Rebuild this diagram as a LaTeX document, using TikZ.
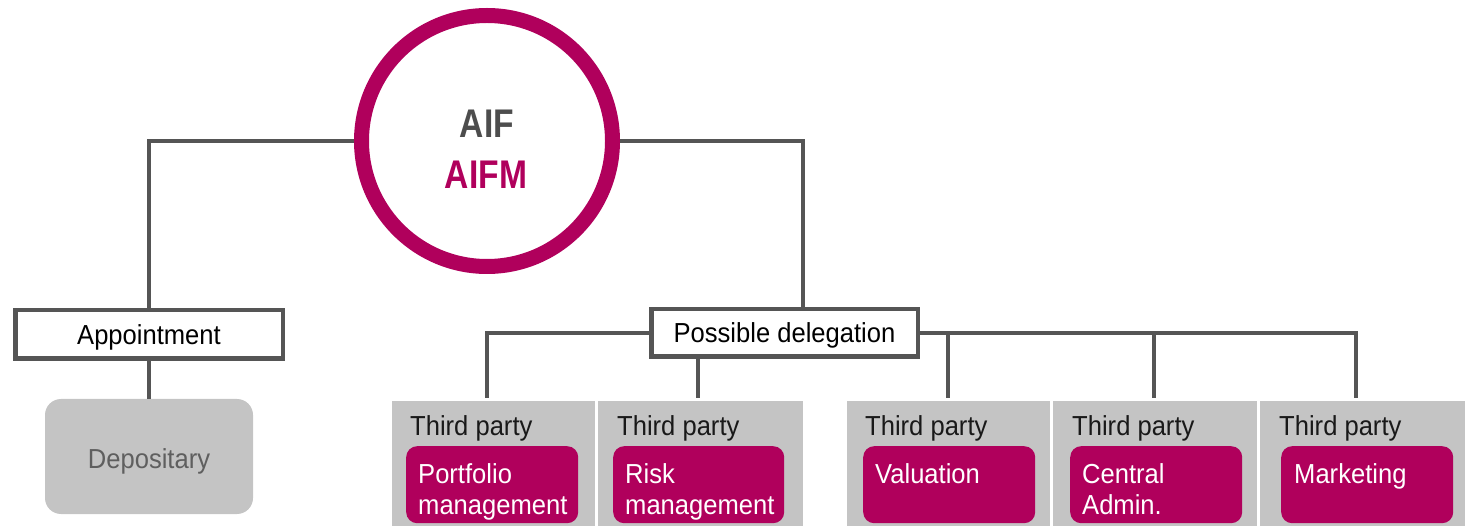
\documentclass[tikz,border=0pt]{standalone}
\usepackage{fontspec}
\setmainfont[FakeStretch=0.93]{Liberation Sans}
\newfontfamily\aiffont[FakeStretch=0.84]{Liberation Sans Bold}
\definecolor{mag}{RGB}{176,0,92}
\definecolor{linegray}{RGB}{85,85,85}
\definecolor{boxgray}{RGB}{196,196,196}
\definecolor{deptext}{RGB}{95,95,95}
\definecolor{aifgray}{RGB}{77,77,77}
\tikzset{
  conn/.style={draw=linegray, line width=4pt},
  labelbox/.style={draw=linegray, line width=4.5pt, fill=white, inner sep=0pt,
    text depth=0pt, text height=20pt, font=\fontsize{27.5}{31}\selectfont},
  tpbox/.style={fill=boxgray, inner sep=0pt, minimum height=130pt, anchor=north west},
  fnbox/.style={fill=mag, rounded corners=11pt, inner sep=0pt, minimum height=77pt, anchor=north west},
  tptext/.style={anchor=base west, inner sep=0pt, font=\fontsize{27.5}{31}\selectfont, text=black!90},
  fntext/.style={anchor=base west, inner sep=0pt, align=left, text width=165pt,
    font=\fontsize{27.5}{31}\selectfont, text=white},
}
\begin{document}
\begin{tikzpicture}[x=1pt,y=-1pt]
\useasboundingbox (0,0) rectangle (1465,526);
\clip (0,0) rectangle (1465,526);

% central circle
\node[circle, draw=mag, line width=15pt, minimum size=251pt, inner sep=0pt] (circ) at (487,141) {};
\node[anchor=base, inner sep=0pt, font=\aiffont\fontsize{40}{40}\selectfont, text=aifgray] (aif) at (487,138) {AIF};
\node[anchor=base, inner sep=0pt, font=\aiffont\fontsize{40}{40}\selectfont, text=mag] (aifm) at (486,189) {AIFM};

% label boxes
\node[labelbox, minimum width=267.5pt, minimum height=48.5pt] (app) at (149,334.5) {Appointment};
\node[labelbox, minimum width=266.5pt, minimum height=47.5pt] (pd) at (784.5,333) {Possible delegation};

% depositary
\node[fill=boxgray, rounded corners=16pt, minimum width=208pt, minimum height=115pt, inner sep=0pt,
  text depth=0pt, text height=23pt,
  text=deptext, font=\fontsize{27.5}{31}\selectfont] (dep) at (149,456.5) {Depositary};

% third party columns
\node[tpbox, minimum width=203pt] (tp1) at (392,401) {};
\node[tpbox, minimum width=205pt] (tp2) at (598,401) {};
\node[tpbox, minimum width=203pt] (tp3) at (847,401) {};
\node[tpbox, minimum width=204pt] (tp4) at (1053,401) {};
\node[tpbox, minimum width=210pt] (tp5) at (1260,401) {};

\node[tptext] (tt1) at (410,436) {Third party};
\node[tptext] (tt2) at (617,436) {Third party};
\node[tptext] (tt3) at (865,436) {Third party};
\node[tptext] (tt4) at (1072,436) {Third party};
\node[tptext] (tt5) at (1279,436) {Third party};

\node[fnbox, minimum width=172pt] (fn1) at (406,446) {};
\node[fnbox, minimum width=171pt] (fn2) at (613,446) {};
\node[fnbox, minimum width=172pt] (fn3) at (863,446) {};
\node[fnbox, minimum width=172pt] (fn4) at (1070,446) {};
\node[fnbox, minimum width=172pt] (fn5) at (1281,446) {};

\node[fntext] (ft1) at (418,483) {Portfolio\\management};
\node[fntext] (ft2) at (625,483) {Risk\\management};
\node[fntext] (ft3) at (875,483) {Valuation};
\node[fntext] (ft4) at (1082,483) {Central\\Admin.};
\node[fntext] (ft5) at (1294,483) {Marketing};

% connector end points
\coordinate (pdtop) at (803,307);
\coordinate (d1) at (487,398);
\coordinate (d2) at (698,398);
\coordinate (d3) at (948,398);
\coordinate (d4) at (1154,398);
\coordinate (d5) at (1356,398);

% connectors
\draw[conn] (circ.west) -| (app.north);
\draw[conn] (app.south) -- (dep.north);
\draw[conn] (circ.east) -| (pdtop);
\draw[conn] (pd.west) -| (d1);
\draw[conn] (pd.south -| d2) -- (d2);
\draw[conn] (pd.east) -| (d5);
\draw[conn] (d3 |- pd.east) -- (d3);
\draw[conn] (d4 |- pd.east) -- (d4);
\end{tikzpicture}
\end{document}
